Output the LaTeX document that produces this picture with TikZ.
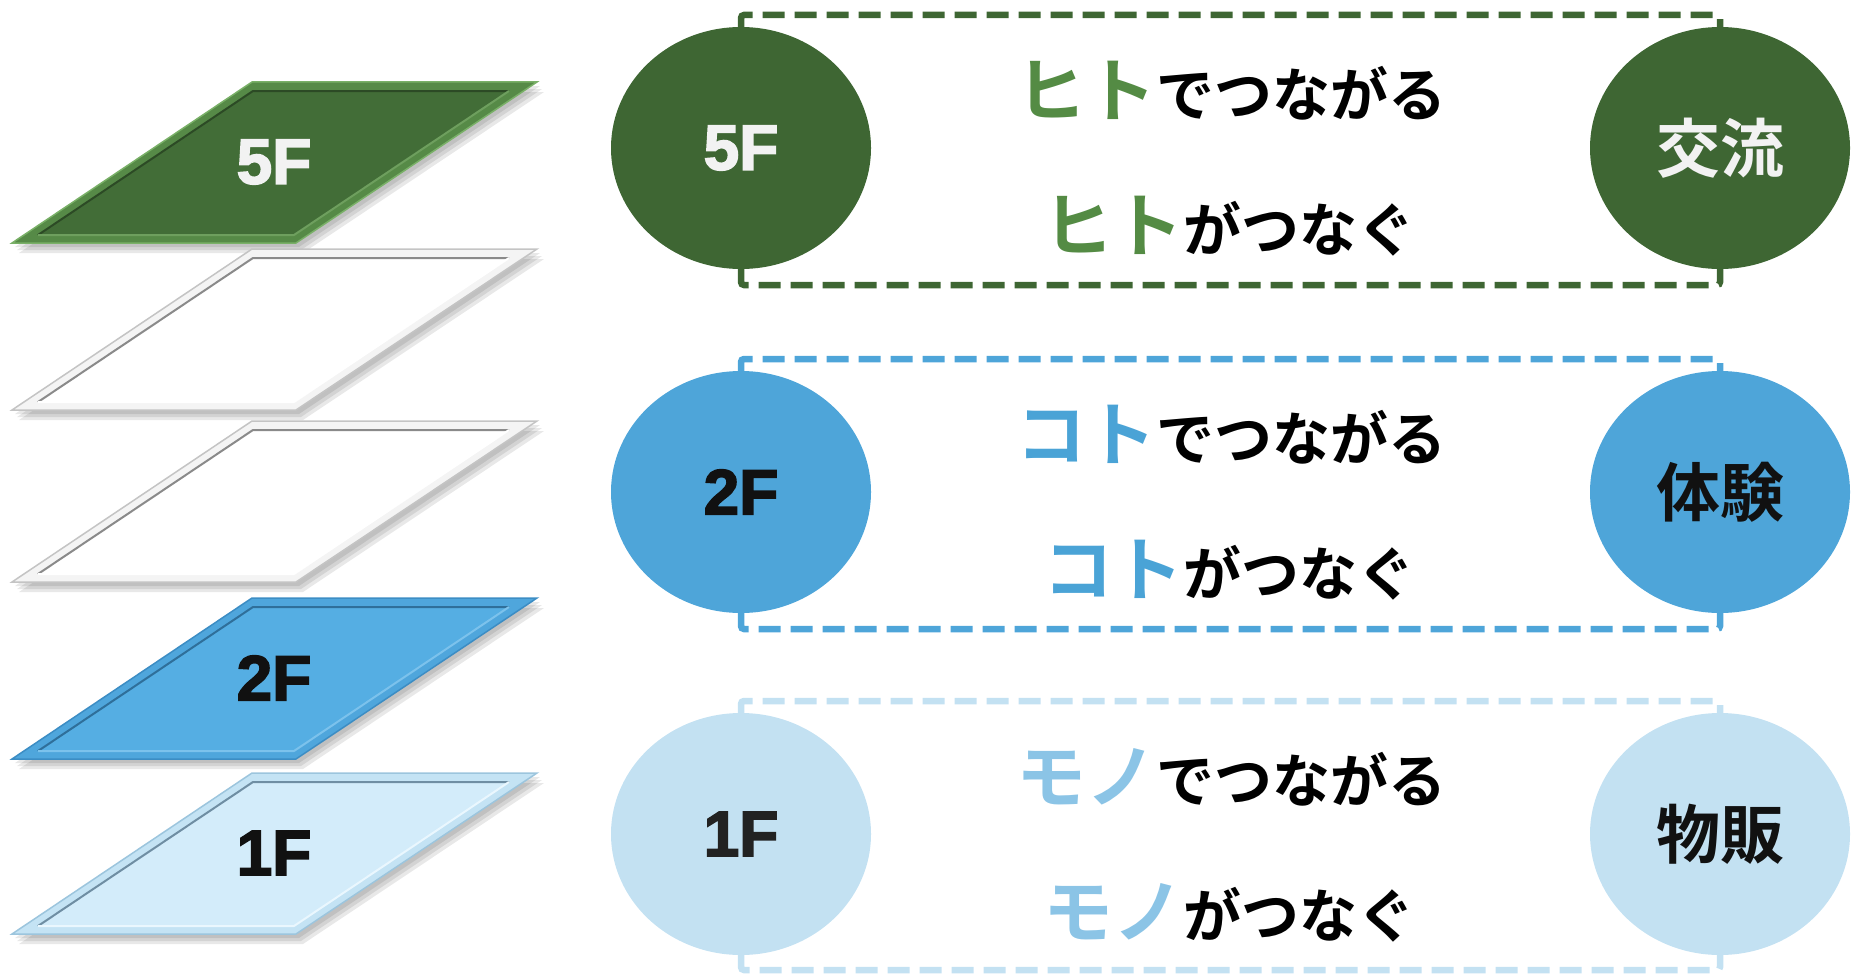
\documentclass[tikz,border=0pt]{standalone}
\usepackage{fontspec}
\usetikzlibrary{shapes.geometric}
\newfontfamily\jpfont{Noto Sans CJK JP Bold}
\newfontfamily\lblfont{Liberation Sans Bold}[FakeBold=2.5]
\definecolor{cg}{HTML}{3E6633}
\definecolor{cb}{HTML}{4EA5D9}
\definecolor{cl}{HTML}{C3E1F2}
\definecolor{kg}{HTML}{548B44}
\definecolor{kb}{HTML}{4AA3D6}
\definecolor{kl}{HTML}{8BC4E6}
\definecolor{wt}{HTML}{F2F2F2}
\definecolor{bk}{HTML}{111111}
\definecolor{bk2}{HTML}{222222}
% floor colours: band, edge, fill, dark, light
\definecolor{gband}{HTML}{568A47}\definecolor{gedge}{HTML}{79B067}\definecolor{gfill}{HTML}{426D37}\definecolor{gdark}{HTML}{2C4A25}\definecolor{glight}{HTML}{6E9F5E}
\definecolor{bband}{HTML}{4FA6DC}\definecolor{bedge}{HTML}{3C8DC4}\definecolor{bfill}{HTML}{55AEE3}\definecolor{bdark}{HTML}{2F6F9A}\definecolor{blight}{HTML}{7CC2EC}
\definecolor{lband}{HTML}{C4E3F4}\definecolor{ledge}{HTML}{9CC5DD}\definecolor{lfill}{HTML}{D3ECFA}\definecolor{ldark}{HTML}{6F8EA3}\definecolor{llight}{HTML}{EAF7FE}
\definecolor{wband}{HTML}{F4F4F4}\definecolor{wedge}{HTML}{C4C4C4}\definecolor{wfill}{HTML}{FFFFFF}\definecolor{wdark}{HTML}{8A8A8A}\definecolor{wlight}{HTML}{FFFFFF}
\tikzset{
  circ/.style={ellipse, minimum width=260pt, minimum height=242pt, inner sep=0pt},
  lbl/.style={font=\lblfont\fontsize{64}{70}\selectfont},
  cjklbl/.style={font=\jpfont\fontsize{64}{70}\selectfont},
  dashbox/.style={line width=6.5pt, dash pattern=on 22pt off 10pt, rounded corners=3pt},
  txt/.style={anchor=base, inner sep=0pt}
}
\newcommand{\floorslab}[5]{%
  \begin{scope}[shift={(0,#2)}]
    \foreach \dx/\dy in {7/10,5/7,3/4}{
      \fill[black, opacity=0.09] (12+\dx,161+\dy) -- (296+\dx,161+\dy) -- (537+\dx,0+\dy) -- (252+\dx,0+\dy) -- cycle;}
    \filldraw[fill=#3band, draw=#3edge, line width=1.5pt] (12,161) -- (296,161) -- (537,0) -- (252,0) -- cycle;
    \fill[#3fill] (38,153) -- (294,153) -- (509,9) -- (253,9) -- cycle;
    \draw[#3dark, line width=2pt] (38,153) -- (253,9) -- (509,9);
    \draw[#3light, line width=2pt] (509,9) -- (294,153) -- (38,153);
    \node[lbl, text=#4] (#1) at (274,80) {#5};
  \end{scope}}
\begin{document}
\begin{tikzpicture}[x=1pt, y=-1pt]
\useasboundingbox (0,0) rectangle (1858,974);
% floors
\floorslab{f5}{82}{g}{wt}{5F}
\floorslab{fa}{249}{w}{wt}{}
\floorslab{fb}{421}{w}{wt}{}
\floorslab{f2}{598}{b}{bk}{2F}
\floorslab{f1}{773}{l}{bk}{1F}
% row 1
\coordinate (T5) at (0,15);
\coordinate (B5) at (0,285);
\node[circ, fill=cg, lbl, text=wt] (L5) at (741,148) {5F};
\node[circ, fill=cg, cjklbl, text=wt] (R5) at (1720,148) {交流};
\draw[dashbox, cg] (L5.north) -- (L5.north |- T5) -| (R5.north);
\draw[dashbox, cg] (L5.south) -- (L5.south |- B5) -| (R5.south);
\node[txt] (s5a) at (1231,116) {\jpfont{\fontsize{70}{80}\selectfont\color{kg}ヒト}{\fontsize{58}{66}\selectfont でつながる}};
\node[txt] (s5b) at (1229,251) {\jpfont{\fontsize{70}{80}\selectfont\color{kg}ヒト}{\fontsize{58}{66}\selectfont がつなぐ}};
% row 2
\coordinate (T2) at (0,359);
\coordinate (B2) at (0,629);
\node[circ, fill=cb, lbl, text=bk] (L2) at (741,492) {2F};
\node[circ, fill=cb, cjklbl, text=bk] (R2) at (1720,492) {体験};
\draw[dashbox, cb] (L2.north) -- (L2.north |- T2) -| (R2.north);
\draw[dashbox, cb] (L2.south) -- (L2.south |- B2) -| (R2.south);
\node[txt] (s2a) at (1231,460) {\jpfont{\fontsize{70}{80}\selectfont\color{kb}コト}{\fontsize{58}{66}\selectfont でつながる}};
\node[txt] (s2b) at (1229,595) {\jpfont{\fontsize{70}{80}\selectfont\color{kb}コト}{\fontsize{58}{66}\selectfont がつなぐ}};
% row 3
\coordinate (T1) at (0,701);
\coordinate (B1) at (0,970);
\node[circ, fill=cl, lbl, text=bk2] (L1) at (741,834) {1F};
\node[circ, fill=cl, cjklbl, text=bk] (R1) at (1720,834) {物販};
\draw[dashbox, cl] (L1.north) -- (L1.north |- T1) -| (R1.north);
\draw[dashbox, cl] (L1.south) -- (L1.south |- B1) -| (R1.south);
\node[txt] (s1a) at (1231,802) {\jpfont{\fontsize{70}{80}\selectfont\color{kl}モノ}{\fontsize{58}{66}\selectfont でつながる}};
\node[txt] (s1b) at (1229,937) {\jpfont{\fontsize{70}{80}\selectfont\color{kl}モノ}{\fontsize{58}{66}\selectfont がつなぐ}};
\end{tikzpicture}
\end{document}
